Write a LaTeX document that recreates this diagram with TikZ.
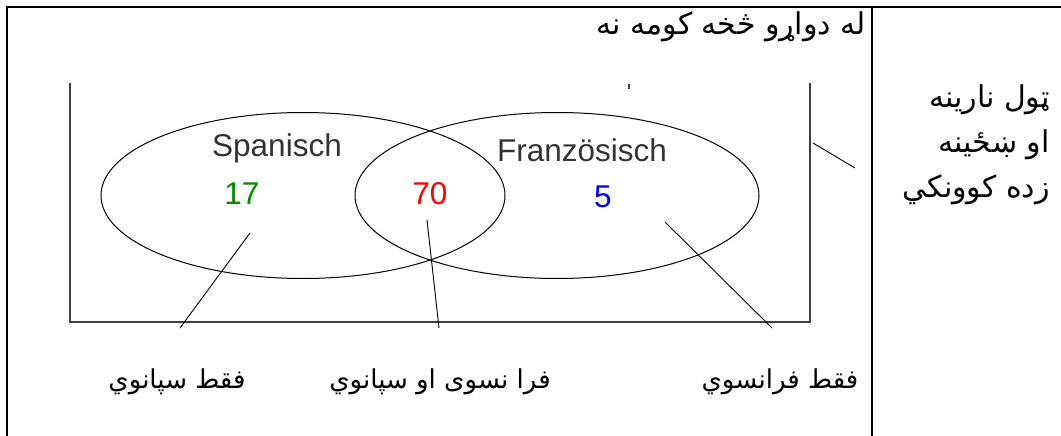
\documentclass[tikz,border=0pt]{standalone}
\usepackage{fontspec}
\setmainfont{Liberation Sans}
\newfontfamily\arabicfont[Script=Arabic]{DejaVu Sans}
\TeXXeTstate=1
\usetikzlibrary{shapes.geometric}

\begin{document}
\begin{tikzpicture}[x=1pt,y=-1pt,
    setellipse/.style={ellipse,draw,line width=1pt,minimum width=404pt,minimum height=166pt,inner sep=0pt},
    latin/.style={font=\fontsize{31.5}{32}\selectfont,inner sep=0pt},
    pashto/.style={font=\arabicfont\fontsize{26}{28}\selectfont,inner sep=0pt},
    pashtobig/.style={font=\arabicfont\fontsize{30}{32}\selectfont,inner sep=0pt},
    pointer/.style={line width=0.9pt}]
    \useasboundingbox (0,0) rectangle (1061,436);
    % table cell borders
    \draw[line width=2.2pt] (7,436)--(7,7)--(1061,7);
    \draw[line width=2.2pt] (872,7)--(872,436);
    % universal set box
    \draw[line width=1.6pt,black!75] (70,83)--(70,322)--(810,322)--(810,83);
    \draw[line width=1.2pt,black!75] (629,84)--(629,89);
    % the two sets
    \node[setellipse] (spa) at (303,195.5) {};
    \node[setellipse] (fra) at (557,195.5) {};
    \node[latin,text=black!80] (spalabel) at (277,148) {Spanisch};
    \node[latin,text=black!80] (fralabel) at (582,150) {Französisch};
    \node[latin,text=green!55!black] (onlyspa) at (242,194) {17};
    \node[latin,text=red] (both) at (430,194) {70};
    \node[latin,text=blue] (onlyfra) at (603,197) {5};
    % labels
    \node[pashtobig,anchor=east] (none) at (866,27) {\beginR له دواړو څخه کومه نه\endR};
    \node[pashtobig,anchor=east] (all1) at (1050,100) {\beginR ټول نارينه\endR};
    \node[pashtobig,anchor=east] (all2) at (1050,145) {\beginR او ښځينه\endR};
    \node[pashtobig,anchor=east] (all3) at (1050,190) {\beginR زده کوونکي\endR};
    \node[pashto] (spatext) at (177,382) {\beginR فقط سپانوي\endR};
    \node[pashto] (bothtext) at (440,382) {\beginR فرا نسوى او سپانوي\endR};
    \node[pashto] (fratext) at (780,382) {\beginR فقط فرانسوي\endR};
    % pointers
    \coordinate (p1a) at (250,233);
    \coordinate (p1b) at (180,328);
    \coordinate (p2a) at (427,220);
    \coordinate (p2b) at (439,328);
    \coordinate (p3a) at (665,222);
    \coordinate (p3b) at (772,328);
    \coordinate (p4a) at (813,143);
    \coordinate (p4b) at (855,168);
    \draw[pointer] (p1a)--(p1b);
    \draw[pointer] (p2a)--(p2b);
    \draw[pointer] (p3a)--(p3b);
    \draw[pointer] (p4a)--(p4b);
\end{tikzpicture}
\end{document}
